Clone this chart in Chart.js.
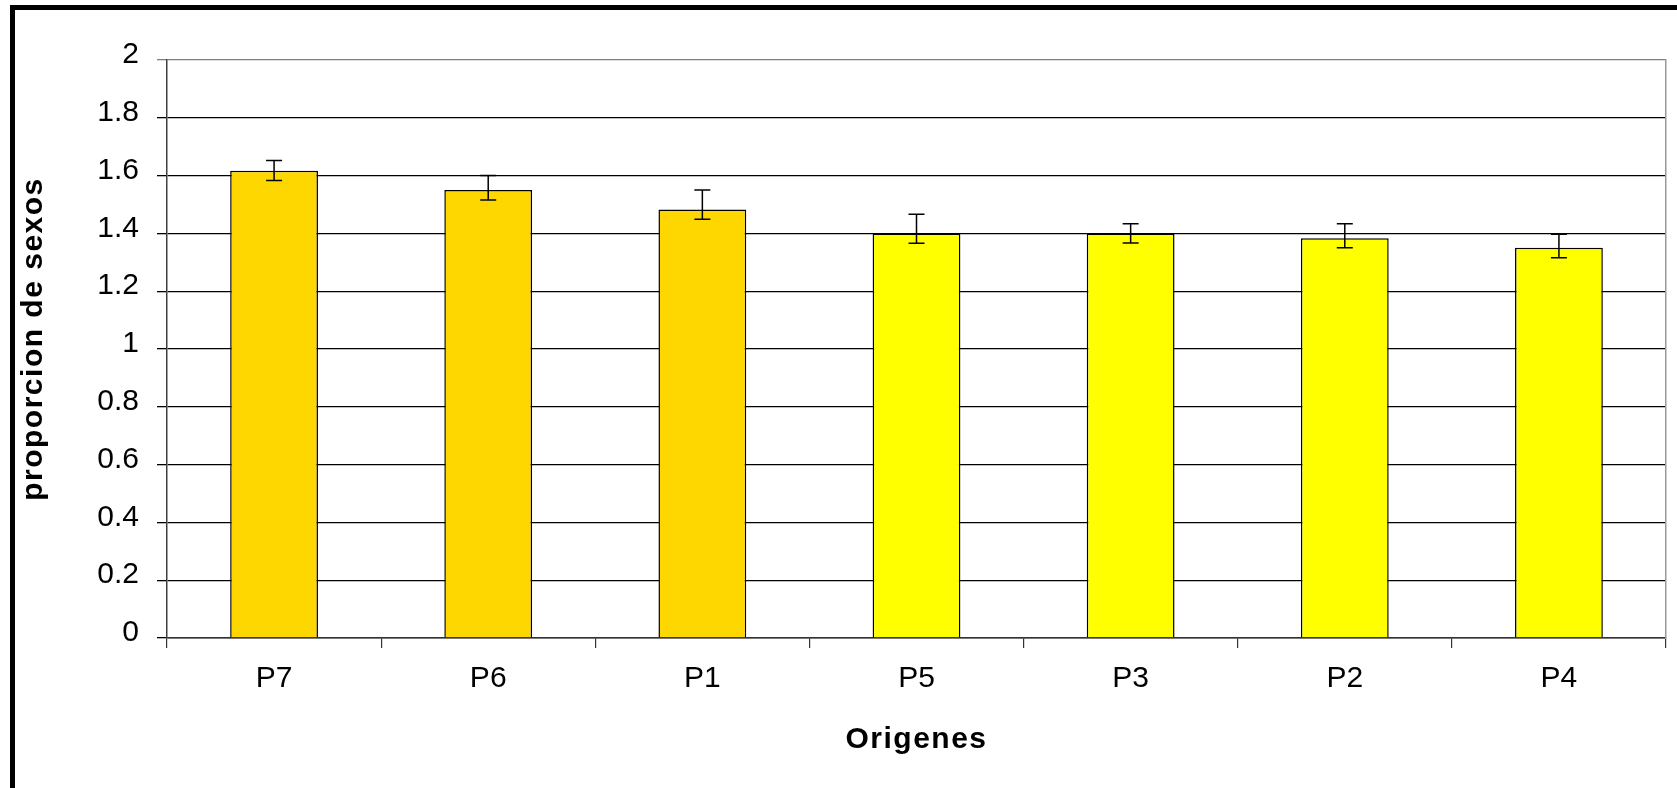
<!DOCTYPE html>
<html>
<head>
<meta charset="utf-8">
<script src="https://cdn.jsdelivr.net/npm/chart.js@4"></script>
<style>
  html, body { margin: 0; padding: 0; background: #fff; overflow: hidden; }
  #wrap { position: absolute; left: 0; top: 0; width: 1677px; height: 788px; }
  #frame { position: absolute; left: 10px; top: 5px; width: 2000px; height: 1000px;
           border: 5px solid #000; pointer-events: none; }
</style>
</head>
<body>
<div id="wrap"><canvas id="chart"></canvas></div>
<div id="frame"></div>
<script>
// data
const origenes = ['P7', 'P6', 'P1', 'P5', 'P3', 'P2', 'P4'];
const proporcion = [1.617, 1.55, 1.483, 1.40, 1.40, 1.383, 1.35];
const errPlus = [0.035, 0.05, 0.067, 0.066, 0.033, 0.05, 0.047];
const errMinus = [0.034, 0.034, 0.034, 0.034, 0.033, 0.033, 0.034];
const barColors = ['#FFD700', '#FFD700', '#FFD700', '#FFFF00', '#FFFF00', '#FFFF00', '#FFFF00'];
const yTickLabels = ['0', '0.2', '0.4', '0.6', '0.8', '1', '1.2', '1.4', '1.6', '1.8', '2'];
const yTitle = 'proporcion de sexos';
const xTitle = 'Origenes';

const FONT = "Arial, 'Liberation Sans', sans-serif";

// error bars drawn through the y scale
const errorBars = {
    id: 'errorBars',
    afterDatasetsDraw(chart) {
        const ctx = chart.ctx;
        const y = chart.scales.y;
        const meta = chart.getDatasetMeta(0);
        ctx.save();
        ctx.strokeStyle = '#000';
        ctx.lineWidth = 1.5;
        meta.data.forEach((bar, i) => {
            const top = y.getPixelForValue(proporcion[i] + errPlus[i]);
            const bot = y.getPixelForValue(proporcion[i] - errMinus[i]);
            ctx.beginPath();
            ctx.moveTo(bar.x, top); ctx.lineTo(bar.x, bot);
            ctx.moveTo(bar.x - 8, top); ctx.lineTo(bar.x + 8, top);
            ctx.moveTo(bar.x - 8, bot); ctx.lineTo(bar.x + 8, bot);
            ctx.stroke();
        });
        ctx.restore();
    }
};

// axis titles in the picture are letter-spaced; tick labels are drawn later (z: 1) without spacing.
// the y title sits a bit above the middle of the axis, so it is drawn here
const titleSpacing = {
    id: 'titleSpacing',
    beforeDraw(chart) { chart.ctx.letterSpacing = '1.5px'; },
    beforeDatasetsDraw(chart) {
        const ctx = chart.ctx;
        const area = chart.chartArea;
        ctx.save();
        ctx.font = 'bold 30px ' + FONT;
        ctx.fillStyle = '#000';
        ctx.textAlign = 'center';
        ctx.textBaseline = 'middle';
        ctx.translate(chart.scales.y.left + 19, (area.top + area.bottom) / 2 - 10);
        ctx.rotate(-Math.PI / 2);
        ctx.fillText(yTitle, 0, 0);
        ctx.restore();
        ctx.letterSpacing = '0px';
    }
};

const ctx = document.getElementById('chart').getContext('2d');
const chart = new Chart(ctx, {
    type: 'bar',
    data: {
        labels: origenes,
        datasets: [{
            data: proporcion,
            backgroundColor: barColors,
            borderColor: '#000',
            borderWidth: 1.5,
            barPercentage: 0.41,
            categoryPercentage: 1
        }]
    },
    options: {
        responsive: true,
        maintainAspectRatio: false,
        animation: false,
        layout: { padding: { left: 15, top: 60, right: 11, bottom: 0 } },
        plugins: {
            legend: { display: false },
            tooltip: { enabled: false }
        },
        scales: {
            x: {
                grid: {
                    offset: true,
                    drawOnChartArea: false,
                    tickLength: 10,
                    color: '#333',
                    lineWidth: 1.2
                },
                border: { color: '#333', width: 1.5 },
                ticks: {
                    z: 1,
                    color: '#000',
                    padding: 13,
                    font: { family: FONT, size: 30 }
                },
                title: {
                    display: true,
                    text: xTitle,
                    color: '#000',
                    font: { family: FONT, size: 30, weight: 'bold' },
                    padding: { bottom: 30 }
                },
                afterFit(scale) { scale.height = 150; }
            },
            y: {
                min: 0,
                max: 2,
                ticks: {
                    z: 1,
                    stepSize: 0.2,
                    color: '#000',
                    padding: 18,
                    labelOffset: -5,
                    font: { family: FONT, size: 30 },
                    callback: (v, i) => yTickLabels[i]
                },
                grid: {
                    tickLength: 10,
                    lineWidth: 1.3,
                    color: (c) => c.tick && c.tick.value === 2 ? '#808080' : '#000'
                },
                border: { color: '#404040', width: 1.5 },
                afterFit(scale) { scale.width = 152; }
            },
            y2: {
                position: 'right',
                grid: { drawOnChartArea: false, drawTicks: false },
                ticks: { display: false },
                border: { color: '#999', width: 1.5 },
                afterFit(scale) { scale.width = 0; }
            }
        }
    },
    plugins: [errorBars, titleSpacing]
});
</script>
</body>
</html>
